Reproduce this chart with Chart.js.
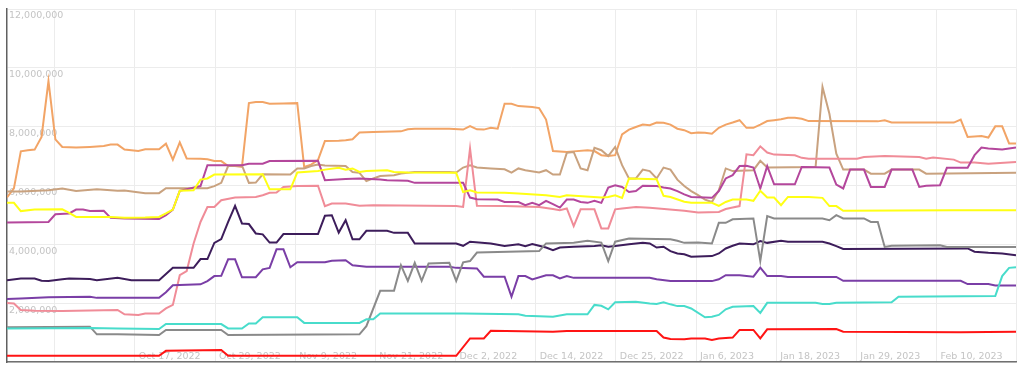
<!DOCTYPE html>
<html>
<head>
<meta charset="utf-8">
<script src="https://cdn.jsdelivr.net/npm/chart.js@4/dist/chart.umd.min.js"></script>
<style>
  html, body { margin: 0; padding: 0; background: #fff; }
  #wrap { width: 1024px; height: 371px; }
</style>
</head>
<body>
<div id="wrap"><canvas id="chart"></canvas></div>
<script>
// x = day index (0 = Sep 28, 2022, one reading a day), y = millions
const orange = [[0,5.6],[1,5.9],[2,7.16],[3,7.2],[4,7.22],[5,7.65],[6,9.55],[7,7.57],[8,7.31],[10,7.29],[12,7.31],[14,7.34],[15,7.39],[16,7.39],[17,7.22],[18,7.2],[19,7.17],[20,7.23],[22,7.23],[23,7.42],[24,6.88],[25,7.47],[26,6.92],[28,6.91],[29,6.89],[30,6.83],[31,6.83],[32,6.66],[33,6.66],[34,6.63],[35,8.8],[36,8.84],[37,8.84],[38,8.78],[40,8.79],[42,8.8],[43,6.63],[44,6.71],[45,6.86],[46,7.51],[48,7.52],[49,7.54],[50,7.57],[51,7.8],[53,7.82],[57,7.84],[58,7.91],[59,7.93],[64,7.93],[66,7.9],[67,8.02],[68,7.91],[69,7.9],[70,7.96],[71,7.93],[72,8.78],[73,8.78],[74,8.7],[76,8.67],[77,8.63],[78,8.24],[79,7.17],[81,7.14],[82,7.16],[84,7.2],[85,7.17],[86,7.03],[87,7.0],[88,7.03],[89,7.74],[90,7.9],[91,7.99],[92,8.07],[93,8.05],[94,8.14],[95,8.13],[96,8.07],[97,7.93],[98,7.88],[99,7.78],[100,7.8],[101,7.79],[102,7.76],[103,7.96],[104,8.07],[105,8.14],[106,8.22],[107,7.96],[108,7.96],[109,8.07],[110,8.19],[111,8.22],[112,8.25],[113,8.3],[114,8.3],[115,8.27],[116,8.19],[126,8.18],[127,8.22],[128,8.14],[137,8.14],[138,8.24],[139,7.65],[141,7.68],[142,7.63],[143,8.01],[144,8.01],[145,7.43],[146,7.43]];
const tan = [[0,5.8],[2,5.8],[6,5.84],[8,5.9],[10,5.81],[13,5.87],[16,5.82],[17,5.83],[20,5.74],[22,5.74],[23,5.91],[29,5.91],[30,5.98],[31,6.09],[32,6.66],[34,6.68],[35,6.09],[36,6.1],[37,6.38],[41,6.37],[42,6.58],[43,6.58],[44,6.66],[45,6.71],[46,6.68],[49,6.66],[50,6.46],[51,6.43],[52,6.15],[53,6.24],[54,6.32],[56,6.35],[57,6.41],[59,6.46],[64,6.46],[65,6.44],[66,6.61],[67,6.69],[68,6.61],[70,6.58],[72,6.55],[73,6.44],[74,6.58],[75,6.52],[77,6.44],[78,6.52],[79,6.37],[80,6.37],[81,7.11],[82,7.14],[83,6.58],[84,6.52],[85,7.28],[86,7.2],[87,7.0],[88,7.31],[89,6.69],[90,6.24],[91,6.24],[92,6.54],[93,6.49],[94,6.24],[95,6.61],[96,6.54],[97,6.2],[98,5.98],[99,5.81],[100,5.67],[101,5.52],[102,5.44],[103,5.84],[104,6.58],[105,6.49],[108,6.52],[109,6.84],[110,6.61],[117,6.63],[118,9.35],[119,8.44],[120,7.08],[121,6.54],[124,6.54],[125,6.4],[127,6.4],[128,6.54],[132,6.54],[133,6.4],[146,6.43]];
const pink = [[0,2.01],[1,1.99],[2,1.77],[4,1.74],[8,1.73],[16,1.77],[17,1.62],[19,1.6],[20,1.65],[22,1.65],[23,1.82],[24,1.94],[25,2.95],[26,3.09],[27,4.03],[28,4.76],[29,5.27],[30,5.27],[31,5.5],[33,5.59],[36,5.61],[37,5.67],[38,5.75],[39,5.76],[40,5.95],[42,5.98],[45,5.99],[46,5.3],[47,5.39],[49,5.39],[51,5.31],[53,5.33],[65,5.3],[66,5.27],[67,7.26],[68,5.31],[72,5.3],[77,5.27],[79,5.2],[80,5.16],[81,5.22],[82,4.62],[83,5.19],[85,5.19],[86,4.54],[87,4.54],[88,5.19],[89,5.22],[91,5.27],[93,5.24],[98,5.14],[100,5.08],[103,5.1],[104,5.2],[105,5.25],[106,5.3],[107,7.06],[108,7.03],[109,7.33],[110,7.12],[111,7.05],[114,7.03],[115,6.94],[116,6.91],[123,6.91],[124,6.97],[127,7.0],[132,6.97],[133,6.91],[134,6.95],[137,6.88],[138,6.78],[140,6.78],[142,6.74],[146,6.8]];
const magenta = [[0,4.74],[6,4.76],[7,5.02],[9,5.05],[10,5.18],[11,5.18],[12,5.13],[14,5.14],[15,4.9],[17,4.88],[22,4.86],[23,4.99],[24,5.18],[25,5.82],[28,5.98],[29,6.69],[34,6.69],[35,6.74],[37,6.74],[38,6.83],[45,6.84],[46,6.18],[49,6.22],[51,6.24],[54,6.2],[55,6.18],[58,6.16],[59,6.09],[66,6.09],[67,5.59],[68,5.53],[71,5.52],[72,5.44],[74,5.44],[75,5.33],[76,5.41],[77,5.33],[78,5.48],[79,5.37],[80,5.25],[81,5.52],[82,5.52],[83,5.44],[84,5.41],[85,5.48],[86,5.41],[87,5.93],[88,6.01],[89,5.95],[90,5.78],[91,5.81],[92,5.99],[94,5.98],[95,5.93],[96,5.9],[97,5.81],[98,5.7],[99,5.61],[102,5.58],[103,5.81],[104,6.24],[105,6.35],[106,6.66],[107,6.67],[108,6.61],[109,5.9],[110,6.66],[111,6.04],[114,6.04],[115,6.63],[119,6.61],[120,6.03],[121,5.9],[122,6.54],[124,6.54],[125,5.95],[127,5.95],[128,6.54],[131,6.54],[132,5.95],[133,5.99],[135,6.01],[136,6.6],[139,6.6],[140,7.03],[141,7.29],[142,7.26],[144,7.22],[146,7.29]];
const yellow = [[0,5.41],[1,5.41],[2,5.13],[4,5.18],[8,5.19],[9,5.07],[10,4.93],[15,4.93],[17,4.9],[20,4.91],[22,4.93],[23,5.05],[24,5.18],[25,5.82],[27,5.84],[28,6.2],[29,6.24],[30,6.37],[37,6.38],[38,5.87],[41,5.87],[42,6.44],[45,6.49],[46,6.54],[48,6.6],[49,6.54],[50,6.58],[51,6.46],[52,6.49],[55,6.52],[56,6.46],[58,6.44],[65,6.43],[66,5.78],[67,5.84],[68,5.76],[72,5.75],[74,5.73],[78,5.67],[80,5.61],[81,5.67],[86,5.59],[87,5.61],[88,5.67],[89,5.58],[90,6.24],[94,6.21],[95,5.65],[96,5.61],[98,5.45],[99,5.41],[102,5.41],[103,5.31],[104,5.44],[105,5.52],[107,5.52],[108,5.48],[109,5.82],[110,5.59],[111,5.59],[112,5.33],[113,5.61],[116,5.61],[118,5.58],[119,5.3],[120,5.3],[121,5.14],[137,5.16],[146,5.16]];
const darkPurple = [[0,2.78],[2,2.84],[4,2.84],[5,2.76],[6,2.75],[8,2.81],[9,2.84],[12,2.82],[13,2.78],[16,2.86],[18,2.78],[22,2.78],[23,2.99],[24,3.2],[27,3.2],[28,3.5],[29,3.5],[30,4.05],[31,4.18],[32,4.76],[33,5.31],[34,4.71],[35,4.69],[36,4.37],[37,4.34],[38,4.06],[39,4.06],[40,4.35],[45,4.35],[46,4.97],[47,4.99],[48,4.4],[49,4.82],[50,4.17],[51,4.17],[52,4.46],[55,4.46],[56,4.39],[58,4.39],[59,4.03],[65,4.03],[66,3.95],[67,4.09],[70,4.03],[72,3.94],[74,4.0],[75,3.94],[76,4.01],[78,3.89],[79,3.8],[80,3.89],[82,3.92],[85,3.94],[86,3.97],[87,3.92],[88,3.94],[90,4.0],[92,4.05],[93,4.03],[94,3.89],[95,3.92],[96,3.77],[97,3.69],[98,3.66],[99,3.58],[102,3.6],[103,3.69],[104,3.86],[105,3.95],[106,4.03],[108,4.0],[109,4.11],[110,4.05],[112,4.12],[113,4.09],[118,4.09],[119,4.03],[120,3.94],[121,3.84],[139,3.86],[140,3.75],[142,3.71],[144,3.69],[146,3.63]];
const purple = [[0,2.14],[2,2.16],[6,2.2],[12,2.22],[13,2.18],[22,2.18],[23,2.37],[24,2.61],[28,2.64],[29,2.75],[30,2.92],[31,2.93],[32,3.49],[33,3.49],[34,2.88],[36,2.88],[37,3.15],[38,3.2],[39,3.83],[40,3.83],[41,3.22],[42,3.39],[46,3.39],[47,3.44],[49,3.46],[50,3.29],[52,3.24],[64,3.24],[65,3.2],[68,3.18],[69,2.9],[72,2.9],[73,2.22],[74,2.92],[75,2.92],[76,2.81],[78,2.95],[79,2.95],[80,2.84],[81,2.92],[82,2.86],[93,2.86],[94,2.81],[96,2.75],[102,2.75],[103,2.81],[104,2.95],[106,2.95],[108,2.9],[109,3.21],[110,2.92],[112,2.92],[113,2.89],[120,2.89],[121,2.76],[138,2.76],[139,2.65],[142,2.65],[143,2.6],[146,2.6]];
const gray = [[0,1.18],[12,1.2],[13,0.94],[16,0.94],[22,0.92],[23,1.09],[31,1.09],[32,0.92],[51,0.94],[52,1.22],[54,2.42],[56,2.42],[57,3.29],[58,2.76],[59,3.37],[60,2.76],[61,3.35],[64,3.37],[65,2.76],[66,3.39],[67,3.43],[68,3.72],[77,3.77],[78,4.03],[82,4.05],[84,4.12],[86,4.06],[87,3.43],[88,4.09],[90,4.2],[96,4.17],[97,4.12],[98,4.05],[100,4.06],[102,4.03],[103,4.73],[104,4.73],[105,4.85],[108,4.88],[109,3.44],[110,4.96],[111,4.88],[118,4.88],[119,4.82],[120,4.99],[121,4.88],[124,4.88],[125,4.76],[126,4.76],[127,3.91],[128,3.95],[135,3.97],[136,3.91],[146,3.91]];
const turquoise = [[0,1.14],[12,1.16],[16,1.14],[22,1.12],[23,1.29],[31,1.29],[32,1.14],[34,1.14],[35,1.31],[36,1.31],[37,1.52],[42,1.52],[43,1.33],[51,1.33],[52,1.45],[53,1.45],[54,1.65],[66,1.65],[74,1.62],[75,1.57],[79,1.54],[81,1.62],[84,1.62],[85,1.94],[86,1.91],[87,1.79],[88,2.03],[91,2.05],[93,1.99],[94,1.97],[95,2.03],[96,1.96],[97,1.9],[98,1.9],[99,1.82],[101,1.52],[102,1.54],[103,1.6],[104,1.79],[105,1.88],[108,1.9],[109,1.67],[110,2.01],[117,2.01],[118,1.97],[119,1.97],[120,2.01],[128,2.03],[129,2.22],[143,2.24],[144,2.92],[145,3.2],[146,3.22]];
const red = [[0,0.21],[22,0.21],[23,0.38],[31,0.41],[32,0.21],[65,0.21],[67,0.8],[69,0.8],[70,1.06],[79,1.03],[81,1.05],[94,1.05],[95,0.83],[96,0.78],[98,0.77],[99,0.8],[101,0.8],[102,0.75],[103,0.8],[105,0.83],[106,1.09],[108,1.09],[109,0.8],[110,1.11],[120,1.12],[121,1.03],[138,1.01],[146,1.03]];

// x axis labels, one every ~11.6 days; first and last ticks are unlabeled gridlines
const tickLabels = ['', 'Oct 17, 2022', 'Oct 29, 2022', 'Nov 9, 2022', 'Nov 21, 2022', 'Dec 2, 2022',
  'Dec 14, 2022', 'Dec 25, 2022', 'Jan 6, 2023', 'Jan 18, 2023', 'Jan 29, 2023', 'Feb 10, 2023', ''];
const tickStart = 6.9;
const tickStep = 11.6;
const lastDay = 146;

const series = [
  { data: red, color: '#ff1414' },
  { data: turquoise, color: '#48dccb' },
  { data: gray, color: '#8a8a8a' },
  { data: purple, color: '#7a3ea6' },
  { data: darkPurple, color: '#3d1d5b' },
  { data: yellow, color: '#ffff14' },
  { data: magenta, color: '#b4479c' },
  { data: pink, color: '#f08c98' },
  { data: tan, color: '#c9a27f' },
  { data: orange, color: '#f2a466' },
];

Chart.defaults.font.family = "'DejaVu Sans', sans-serif";
Chart.defaults.font.size = 9.5;

const ctx = document.getElementById('chart').getContext('2d');
new Chart(ctx, {
  type: 'line',
  data: {
    datasets: series.map((s) => ({
      data: s.data.map(([d, v]) => ({ x: d, y: v * 1e6 })),
      borderColor: s.color,
      borderWidth: 2,
      pointRadius: 0,
      fill: false,
      tension: 0,
    })),
  },
  options: {
    responsive: true,
    maintainAspectRatio: false,
    animation: false,
    layout: { padding: { left: 3, right: 8, top: 9, bottom: 9 } },
    plugins: {
      legend: { display: false },
      tooltip: { enabled: false },
    },
    scales: {
      x: {
        type: 'linear',
        min: 0,
        max: lastDay,
        afterBuildTicks: (scale) => {
          scale.ticks = tickLabels.map((_, k) => ({ value: Math.min(tickStart + k * tickStep, lastDay) }));
        },
        grid: { color: '#ececec', drawTicks: false },
        border: { color: '#707070', width: 1.5 },
        ticks: {
          mirror: true,
          padding: 0,
          align: 'start',
          labelOffset: 4,
          maxRotation: 0,
          autoSkip: false,
          color: '#c4c4c4',
          callback: (value, index) => tickLabels[index],
        },
      },
      y: {
        min: 0,
        max: 12000000,
        grid: { color: '#ececec', drawTicks: false },
        border: { color: '#606060', width: 1.5 },
        ticks: {
          stepSize: 2000000,
          mirror: true,
          padding: 2,
          labelOffset: 7,
          color: '#c4c4c4',
          callback: (value) => (value === 0 ? '' : value.toLocaleString('en-US')),
        },
      },
    },
  },
});
</script>
</body>
</html>
